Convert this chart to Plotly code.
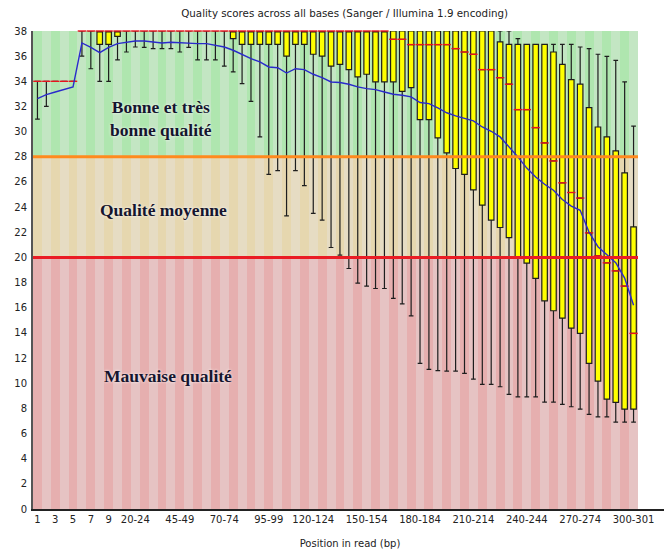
import plotly.graph_objects as go

# ---------------- data ----------------
categories = ["1", "2", "3", "4", "5", "6", "7", "8", "9",
              "10-14", "15-19", "20-24", "25-29", "30-34", "35-39", "40-44", "45-49",
              "50-54", "55-59", "60-64", "65-69", "70-74", "75-79", "80-84", "85-89",
              "90-94", "95-99", "100-104", "105-109", "110-114", "115-119", "120-124",
              "125-129", "130-134", "135-139", "140-144", "145-149", "150-154", "155-159",
              "160-164", "165-169", "170-174", "175-179", "180-184", "185-189", "190-194",
              "195-199", "200-204", "205-209", "210-214", "215-219", "220-224", "225-229",
              "230-234", "235-239", "240-244", "245-249", "250-254", "255-259", "260-264",
              "265-269", "270-274", "275-279", "280-284", "285-289", "290-294", "295-299",
              "300-301"]

tick_labels = ["1", "3", "5", "7", "9", "20-24", "45-49", "70-74", "95-99", "120-124",
               "150-154", "180-184", "210-214", "240-244", "270-274", "300-301"]

y_ticks = [0, 2, 4, 6, 8, 10, 12, 14, 16, 18, 20, 22, 24, 26, 28, 30, 32, 34, 36, 38]

p10 = [31, 32, 34, 34, 34, 36, 35, 34, 34, 35.7, 36.33, 36.73, 36.7, 36.6, 36.6, 36.6, 36.33,
       36.7, 35.7, 35.7, 35.7, 35.2, 34.75, 33.82, 32.41, 29.58, 26.6, 26.9, 23.3, 26.9, 25.7,
       23.5, 22.96, 20.79, 20.18, 19.12, 17.95, 17.72, 17.53, 17.53, 16.74, 16.3, 15.35, 11.57,
       11.1, 11.0, 10.96, 10.96, 10.78, 10.33, 9.9, 9.9, 9.72, 9.11, 8.92, 8.92, 8.92, 8.5,
       8.5, 8.32, 8.13, 7.94, 7.52, 7.33, 7.33, 6.91, 6.91, 6.91]

q1 = [34, 34, 34, 34, 34, 38, 38, 36.94, 36.94, 37.58, 38, 38, 38, 38, 38, 38, 38,
      38, 38, 38, 38, 38, 37.4, 36.94, 36.94, 36.94, 36.94, 36.94, 36.0, 36.94, 36.94,
      36.15, 36.0, 35.2, 35.35, 34.93, 34.35, 34.56, 33.95, 33.95, 33.95, 33.2, 33.5, 30.96,
      30.96, 29.5, 28.31, 27.07, 26.6, 25.37, 24.15, 22.97, 22.38, 21.58, 20.0, 19.55, 18.33, 16.55,
      15.76, 15.17, 14.38, 13.96, 11.57, 10.17, 8.74, 8.48, 7.94, 7.94]

median = [34, 34, 34, 34, 34, 38, 38, 38, 38, 38, 38, 38, 38, 38, 38, 38, 38,
          38, 38, 38, 38, 38, 38, 38, 38, 38, 38, 38, 38, 38, 38,
          38, 38, 38, 38, 38, 38, 38, 38, 38, 37.34, 37.34, 36.92, 36.92,
          36.92, 36.92, 36.92, 36.6, 36.33, 36.15, 34.93, 34.93, 34.29, 33.77, 31.75, 31.75, 30.32, 29.1,
          27.67, 25.93, 25.16, 24.72, 21.95, 20.12, 19.57, 18.93, 17.72, 13.96]

q3 = [34, 34, 34, 34, 34, 38, 38, 38, 38, 38, 38, 38, 38, 38, 38, 38, 38,
      38, 38, 38, 38, 38, 38, 38, 38, 38, 38, 38, 38, 38, 38,
      38, 38, 38, 38, 38, 38, 38, 38, 38, 38, 38, 38, 38,
      38, 38, 38, 38, 38, 38, 38, 38, 37.13, 36.94, 36.94, 36.94, 36.94, 36.94,
      36.33, 35.35, 34.14, 33.77, 31.91, 30.37, 29.58, 28.47, 26.72, 22.43]

p90 = [34, 34, 34, 34, 34, 38, 38, 38, 38, 38, 38, 38, 38, 38, 38, 38, 38,
       38, 38, 38, 38, 38, 38, 38, 38, 38, 38, 38, 38, 38, 38,
       38, 38, 38, 38, 38, 38, 38, 38, 38, 38, 38, 38, 38,
       38, 38, 38, 38, 38, 38, 38, 38, 38, 38, 37.4, 36.94, 36.94, 36.94,
       36.94, 36.94, 36.94, 36.73, 36.6, 36.15, 35.99, 35.67, 33.95, 30.43]

mean = [32.63, 32.94, 33.15, 33.35, 33.55, 37.05, 36.7, 36.28, 36.7, 37.0, 37.13, 37.2, 37.2,
        37.13, 37.05, 37.1, 37.05, 37.05, 37.0, 37.0, 36.86, 36.73, 36.47, 36.12, 35.8, 35.54,
        35.14, 35.08, 34.66, 35.0, 34.93, 34.56, 34.3, 33.95, 33.9, 33.77, 33.56, 33.42, 33.34,
        33.15, 32.97, 32.89, 32.76, 32.31, 32.23, 31.88, 31.5, 31.25, 31.04, 30.85, 30.37, 30.03,
        29.58, 28.79, 27.99, 27.1, 26.4, 25.82, 25.34, 24.6, 24.08, 23.75, 22.0, 20.85, 20.23,
        19.58, 18.36, 16.2]

# quality zones: (bottom, top, light colour, dark colour)
zones = [(0, 20, "rgb(230,195,195)", "rgb(230,175,175)"),
         (20, 28, "rgb(230,220,195)", "rgb(230,215,175)"),
         (28, 38, "rgb(195,230,195)", "rgb(175,230,175)")]

zone_labels = ["Bonne et très<br>bonne qualité", "Qualité moyenne", "Mauvaise qualité"]

# ---------------- figure ----------------
n = len(categories)
fig = go.Figure()

for lo, hi, light, dark in zones:
    fig.add_trace(go.Bar(
        x=categories, y=[hi - lo] * n, base=[lo] * n, width=1.0,
        marker=dict(color=[dark if i % 2 == 0 else light for i in range(n)], line=dict(width=0)),
        hoverinfo="skip", showlegend=False))

fig.add_trace(go.Box(
    x=categories, q1=q1, median=median, q3=q3, lowerfence=p10, upperfence=p90,
    width=0.62, whiskerwidth=0.85, fillcolor="#ffff00",
    line=dict(color="#1e1e1e", width=1.2), boxpoints=False, showlegend=False))

fig.add_trace(go.Scatter(
    x=categories, y=median, mode="markers",
    marker=dict(symbol="line-ew", size=6, line=dict(color="#e8141e", width=1.4)),
    cliponaxis=False, showlegend=False, hoverinfo="skip"))

fig.add_trace(go.Scatter(
    x=categories, y=mean, mode="lines",
    line=dict(color="#2a2acc", width=1.4), showlegend=False))

# threshold lines
fig.add_shape(type="line", xref="x", yref="y", x0=-0.5, x1=n - 0.5, y0=28, y1=28,
              line=dict(color="#ff8a1e", width=3), layer="above")
fig.add_shape(type="line", xref="x", yref="y", x0=-0.5, x1=n - 0.5, y0=20, y1=20,
              line=dict(color="#ea1c24", width=3), layer="above")

ann_font = dict(family="Liberation Serif", size=17.5, color="#15152e", weight="bold",
                shadow="0px 0px 3px rgba(255,255,255,0.9)")
fig.add_annotation(x=13.94, y=31.06, xref="x", yref="y", text=zone_labels[0],
                   showarrow=False, font=ann_font, align="center")
fig.add_annotation(x=14.22, y=23.75, xref="x", yref="y", text=zone_labels[1],
                   showarrow=False, font=ann_font)
fig.add_annotation(x=14.67, y=10.57, xref="x", yref="y", text=zone_labels[2],
                   showarrow=False, font=ann_font)

tick_font = dict(family="DejaVu Sans", size=10, color="#222222")
fig.update_layout(
    width=664, height=544,
    margin=dict(l=25, r=5, t=23, b=43),
    paper_bgcolor="white", plot_bgcolor="white",
    barmode="overlay", bargap=0,
    title=dict(text="Quality scores across all bases (Sanger / Illumina 1.9 encoding)",
               x=0.507, xanchor="center", y=0.991, yanchor="middle", yref="container",
               font=dict(family="DejaVu Sans", size=10.3, color="#222222")),
    xaxis=dict(type="category", categoryorder="array", categoryarray=categories,
               range=[-0.5, n - 0.5 + 3.26], tickvals=tick_labels, ticktext=tick_labels,
               showgrid=False, zeroline=False, showline=True, linecolor="#222222", linewidth=1.5,
               ticks="", tickfont=tick_font,
               title=dict(text="Position in read (bp)", font=tick_font, standoff=16)),
    yaxis=dict(range=[0, 38], tickvals=y_ticks, showgrid=False, zeroline=False,
               showline=True, linecolor="#555555", linewidth=2, ticks="",
               tickfont=tick_font, ticklabelstandoff=2),
)

fig.write_html("out.html")
